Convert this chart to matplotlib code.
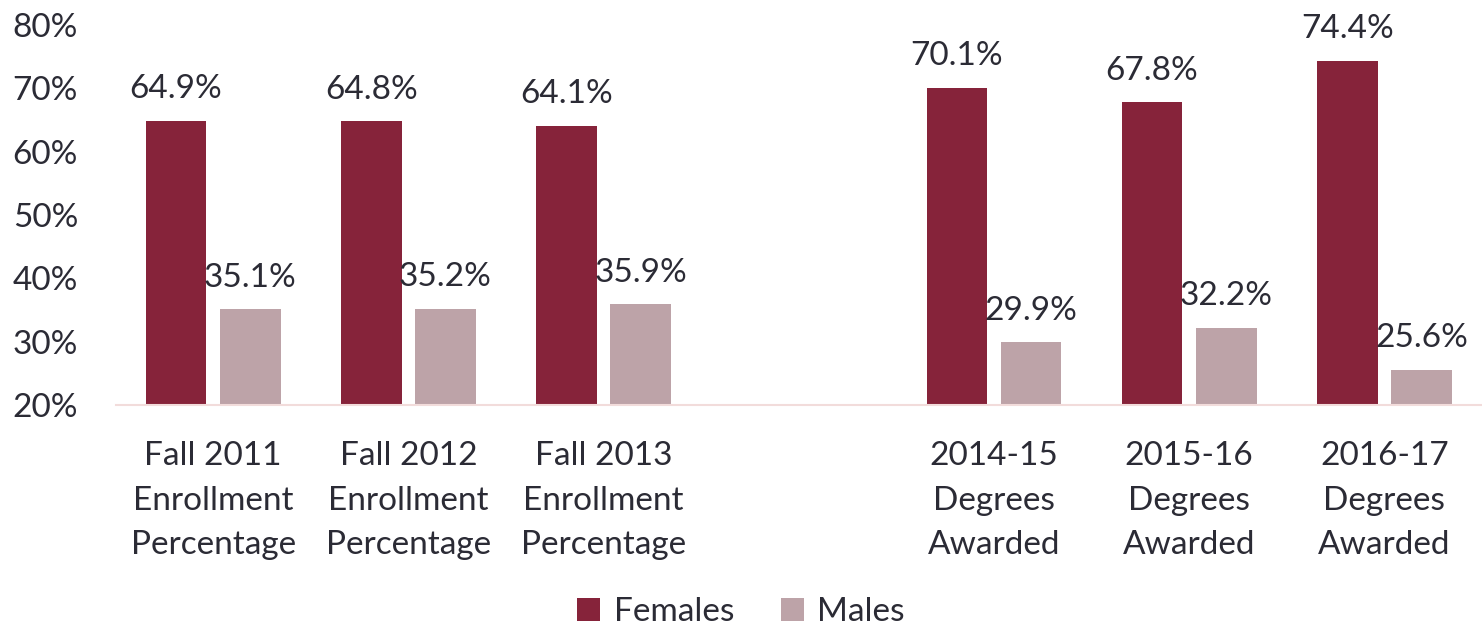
import numpy as np
import matplotlib
matplotlib.use("Agg")
import matplotlib.pyplot as plt

categories = [
    "Fall 2011\nEnrollment\nPercentage",
    "Fall 2012\nEnrollment\nPercentage",
    "Fall 2013\nEnrollment\nPercentage",
    "",
    "2014-15\nDegrees\nAwarded",
    "2015-16\nDegrees\nAwarded",
    "2016-17\nDegrees\nAwarded",
]
females = [64.9, 64.8, 64.1, np.nan, 70.1, 67.8, 74.4]
males = [35.1, 35.2, 35.9, np.nan, 29.9, 32.2, 25.6]
yticks = [20, 30, 40, 50, 60, 70, 80]

c_fem = "#86233A"
c_male = "#BDA3A8"
c_text = "#2B2B35"

plt.rcParams["font.family"] = ["Lato", "DejaVu Sans"]

fig = plt.figure(figsize=(14.82, 6.26), dpi=100)
ax = fig.add_axes([0.078, 0.353, 0.922, 0.607])

x = np.arange(len(categories))
w = 0.31
off = 0.19
b1 = ax.bar(x - off, females, w, color=c_fem, label="Females")
b2 = ax.bar(x + off, males, w, color=c_male, label="Males")

for bars, vals in ((b1, females), (b2, males)):
    for rect, v in zip(bars, vals):
        if np.isnan(v):
            continue
        ax.annotate(f"{v:.1f}%", (rect.get_x() + rect.get_width() / 2, v),
                    xytext=(0, 12), textcoords="offset points",
                    ha="center", va="bottom", fontsize=24, color=c_text)

ax.set_ylim(20, 80)
ax.set_xlim(-0.5, len(categories) - 0.5)
ax.set_yticks(yticks)
ax.set_yticklabels([f"{t}%" for t in yticks])
ax.set_xticks(x)
ax.set_xticklabels(categories, linespacing=1.6)
ax.tick_params(axis="both", length=0, labelsize=24, colors=c_text)
ax.tick_params(axis="x", pad=26)
ax.tick_params(axis="y", pad=27)
for lab in ax.get_yticklabels():
    lab.set_horizontalalignment("right")

for s in ("top", "right", "left"):
    ax.spines[s].set_visible(False)
ax.spines["bottom"].set_color("#F2DCDB")
ax.spines["bottom"].set_linewidth(1.5)

leg = fig.legend(handles=[b1, b2], labels=["Females", "Males"],
                 loc="lower center", bbox_to_anchor=(0.5, -0.05), ncol=2,
                 frameon=False, fontsize=24, handlelength=0.7, handleheight=0.7,
                 handletextpad=0.4, columnspacing=1.4)
for t in leg.get_texts():
    t.set_color(c_text)

fig.savefig("out.png", dpi=100)
